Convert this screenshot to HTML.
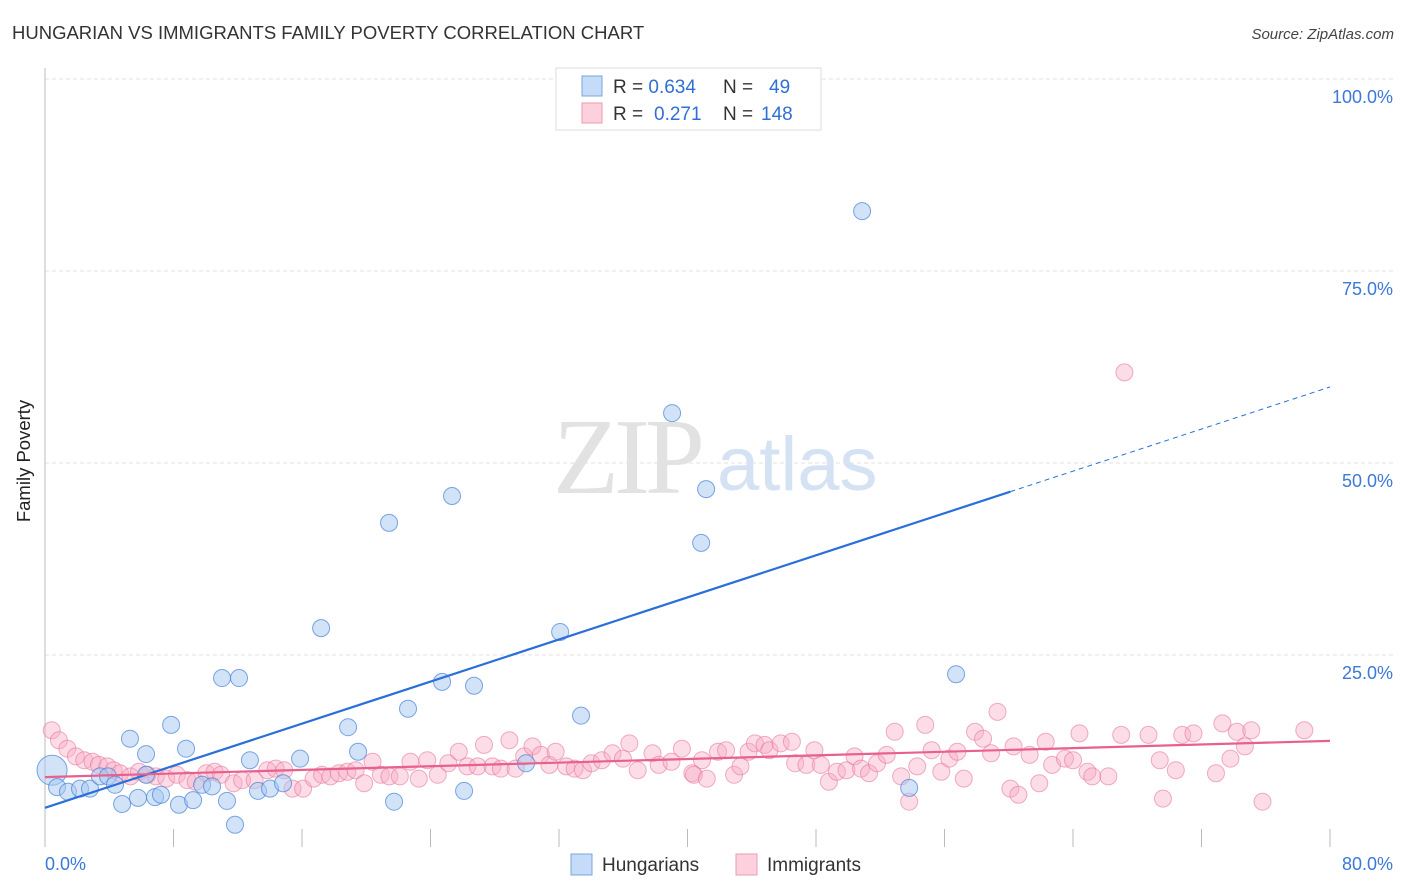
<!DOCTYPE html>
<html><head><meta charset="utf-8"><style>
body{margin:0;background:#fff;font-family:"Liberation Sans",sans-serif;}
#wrap{position:relative;width:1406px;height:892px;overflow:hidden;}
</style></head><body>
<div id="wrap">
<svg id="svg" width="1406" height="892" xmlns="http://www.w3.org/2000/svg">
<text x="12" y="39" font-size="18.5" fill="#333">HUNGARIAN VS IMMIGRANTS FAMILY POVERTY CORRELATION CHART</text>
<text x="1394" y="39" font-size="15" fill="#444" font-style="italic" text-anchor="end">Source: ZipAtlas.com</text>
<text x="24" y="455" font-size="18.5" fill="#222" text-anchor="middle" transform="rotate(-90 30 455)">Family Poverty</text>
<g>
<text x="553" y="493" font-family="Liberation Serif,serif" font-size="108" fill="#e2e2e2" letter-spacing="-5">ZIP</text>
<text x="717" y="490" font-size="76" fill="#d4e2f4">atlas</text>
</g>
<g id="grid"></g><g id="marks"></g><g id="lines"></g>
<g>
<rect x="556" y="68" width="265" height="62" fill="#fff" stroke="#ddd"/>
<rect x="582" y="76" width="20" height="20" fill="#c5dbf7" stroke="#7aa6e0"/>
<rect x="582" y="103" width="20" height="20" fill="#fcd1dd" stroke="#ee9ab3"/>
<text x="613" y="93" font-size="19" fill="#333">R = <tspan fill="#2f6fd6">0.634</tspan><tspan x="723">N = </tspan><tspan x="769" fill="#2f6fd6">49</tspan></text>
<text x="613" y="120" font-size="19" fill="#333">R = <tspan x="654" fill="#2f6fd6">0.271</tspan><tspan x="723">N = </tspan><tspan x="761" fill="#2f6fd6">148</tspan></text>
</g>
<g>
<rect x="571" y="854" width="21" height="21" fill="#c5dbf7" stroke="#7aa6e0"/>
<text x="602" y="871" font-size="19" fill="#333">Hungarians</text>
<rect x="736" y="854" width="21" height="21" fill="#fcd1dd" stroke="#ee9ab3"/>
<text x="767" y="871" font-size="19" fill="#333">Immigrants</text>
</g>
</svg>
</div>
<script>
const yTicks=[25,50,75,100];
const yTickLabels=["25.0%","50.0%","75.0%","100.0%"];
const xTickLabels=["0.0%","80.0%"];
const blueX=[0.44,0.75,1.43,2.18,2.80,3.42,3.92,4.36,4.80,5.29,5.79,6.29,6.29,6.85,7.22,7.85,8.34,8.78,9.22,9.78,10.40,11.02,11.33,11.83,12.08,12.76,13.26,14.01,14.82,15.88,17.19,18.87,19.49,21.42,21.73,22.60,24.72,25.34,26.09,26.71,29.95,32.07,33.37,39.04,40.85,41.16,50.87,53.80,56.72];
const blueY=[10.0,7.8,7.2,7.6,7.6,9.2,9.2,8.1,5.6,14.1,6.4,12.1,9.4,6.5,6.8,15.9,5.5,12.8,6.1,8.1,7.9,22.0,6.0,2.9,22.0,11.3,7.3,7.6,8.3,11.5,28.5,15.6,12.4,42.2,5.9,18.0,21.5,45.7,7.3,21.0,10.9,28.0,17.1,56.5,39.6,46.6,82.8,7.7,22.5];
const pinkX=[0.42,0.87,1.39,1.92,2.44,2.96,3.36,3.88,4.27,4.67,5.32,5.85,6.37,6.90,7.55,8.21,8.86,9.38,10.04,10.56,10.96,11.74,12.27,13.05,13.84,14.36,14.89,15.41,16.07,16.72,17.25,17.77,18.30,18.82,19.34,19.87,20.39,20.91,21.44,22.09,22.75,23.27,23.80,24.45,25.11,25.76,26.29,26.94,27.33,27.86,28.38,28.91,29.30,29.83,30.35,30.87,31.40,31.79,32.45,32.97,33.49,34.02,34.67,35.33,35.98,36.38,36.90,37.82,38.21,39.0,39.65,40.3,
40.4,40.9,41.2,41.9,42.4,42.9,43.3,43.8,44.2,44.8,45.1,45.8,46.5,46.7,47.4,47.9,48.3,48.8,49.3,49.9,50.4,50.8,51.3,51.8,52.4,52.9,53.3,53.8,54.3,54.8,55.2,55.8,56.3,56.8,57.2,57.9,58.4,58.9,59.3,60.1,60.6,60.3,61.3,61.9,62.3,62.7,63.5,64.0,64.4,64.9,65.2,66.2,67.0,68.7,69.4,69.6,70.4,70.8,71.5,72.9,73.3,73.8,74.2,74.7,75.1,75.8,78.4,67.2];
const pinkY=[15.2,13.9,12.8,11.8,11.3,11.1,10.7,10.5,10.0,9.6,9.2,9.8,9.4,9.2,8.9,9.4,8.7,8.5,9.6,9.8,9.4,8.3,8.7,8.7,10.0,10.2,10.0,7.6,7.6,8.9,9.4,9.2,9.6,9.8,10.0,8.3,11.1,9.4,9.2,9.2,11.1,8.9,11.3,9.4,10.9,12.4,10.5,10.5,13.3,10.5,10.2,13.9,10.2,11.8,13.1,12.0,10.7,12.4,10.5,10.2,10.0,10.9,11.3,12.2,11.5,13.5,10.0,12.2,10.7,11.1,12.8,9.6,
9.4,11.3,8.9,12.4,12.6,9.4,10.5,12.4,13.5,13.3,12.6,13.5,13.7,10.9,10.7,12.6,10.7,8.5,9.8,10.0,11.8,10.2,9.6,10.9,12.0,15.0,9.2,5.9,10.5,15.9,12.6,9.8,11.5,12.4,8.9,15.0,14.1,12.2,17.6,7.6,6.8,13.1,12.0,8.3,13.7,10.7,11.5,11.3,14.8,9.8,9.2,9.2,14.6,14.6,11.3,6.3,10.0,14.6,14.8,9.6,16.1,11.5,15.0,13.1,15.2,5.9,15.2,61.8];
const blueTrend=[5.1,0.685]; // intercept, slope
const pinkTrend=[9.1,0.059];
const NS="http://www.w3.org/2000/svg";
const X=v=>45+v*(1285/80), Y=v=>847-v*7.68;
function mk(t,a,p){const e=document.createElementNS(NS,t);for(const k in a)e.setAttribute(k,a[k]);p.appendChild(e);return e;}
const grid=document.getElementById('grid'),marks=document.getElementById('marks'),lines=document.getElementById('lines');
yTicks.forEach((t,i)=>{
 const l=mk('line',{x1:45,x2:1394,y1:Y(t),y2:Y(t),stroke:'#e2e2e2','stroke-dasharray':'4 3'},grid);
 
 
 const tx=mk('text',{x:1393,y:Y(t)+24,'font-size':18,fill:'#3b78d8','text-anchor':'end'},grid);tx.textContent=yTickLabels[i];
 
 
});
const ax=mk('line',{x1:45,x2:45,y1:68,y2:847,stroke:'#bbb'},grid);


for(let i=1;i<=10;i++){const t=mk('line',{x1:X(i*8),x2:X(i*8),y1:829,y2:847,stroke:'#bbb'},grid);
 
 }
[[0,45,'start'],[1,1393,'end']].forEach(([i,x,a])=>{const t=mk('text',{x:x,y:870,'font-size':18,fill:'#3b78d8','text-anchor':a},grid);t.textContent=xTickLabels[i];
 
 });
pinkX.forEach((x,i)=>{const c=mk('circle',{cx:X(x),cy:Y(pinkY[i]),r:8.5,fill:'rgba(248,170,195,0.4)',stroke:'rgba(232,120,155,0.6)','stroke-width':1},marks);
 
 });
blueX.forEach((x,i)=>{const c=mk('circle',{cx:X(x),cy:Y(blueY[i]),r:i==0?15:8.5,fill:'rgba(165,200,242,0.5)',stroke:'rgba(70,130,215,0.7)','stroke-width':1},marks);
 
 });
const bY=x=>blueTrend[0]+blueTrend[1]*x, pY=x=>pinkTrend[0]+pinkTrend[1]*x;
const b1=mk('line',{x1:X(0),y1:Y(bY(0)),x2:X(60.1),y2:Y(bY(60.1)),stroke:'#2a6fd9','stroke-width':2.2},lines);


const b2=mk('line',{x1:X(60.1),y1:Y(bY(60.1)),x2:X(80),y2:Y(bY(80)),stroke:'#2a6fd9','stroke-width':1,'stroke-dasharray':'5 4'},lines);


const p1=mk('line',{x1:X(0),y1:Y(pY(0)),x2:X(80),y2:Y(pY(80)),stroke:'#e8608d','stroke-width':2.2},lines);


</script>
</body></html>
